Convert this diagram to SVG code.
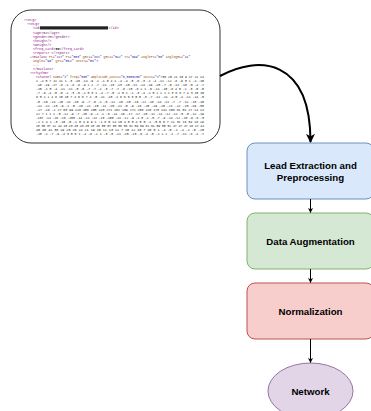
<svg xmlns="http://www.w3.org/2000/svg" width="371" height="411" viewBox="0 0 371 411">
<style>
.lbl{font-family:"Liberation Sans",Arial,sans-serif;font-weight:bold;font-size:9.7px;fill:#000;text-anchor:middle}
.x{font-family:"Liberation Mono","DejaVu Sans Mono",monospace;font-size:3.4px;fill:#222}
.t{fill:#881280}
.a{fill:#994500}
.v{fill:#1a1aa6}
.n{fill:#222}
.tri{fill:#666}
</style>
<defs>
<marker id="big" viewBox="0 0 10 10" refX="9" refY="5" markerWidth="4.5" markerHeight="4.5" markerUnits="strokeWidth" orient="auto">
<path d="M0,0 L10,5 L0,10 L2.5,5 Z" fill="#000"/>
</marker>
<marker id="small" viewBox="0 0 10 10" refX="9" refY="5" markerWidth="5" markerHeight="5" markerUnits="strokeWidth" orient="auto">
<path d="M0,0 L10,5 L0,10 L2.5,5 Z" fill="#000"/>
</marker>
</defs>

<g id="xml-document">
<rect x="11" y="10" width="209" height="133" rx="20" ry="20" fill="#fff" stroke="#333" stroke-width="1"/>
<g class="x">
<text x="24" y="21.2"><tspan class="tri">▾</tspan><tspan class="t">&lt;ecg&gt;</tspan></text>
<text x="27" y="25.2"><tspan class="tri">▾</tspan><tspan class="t">&lt;ecg&gt;</tspan></text>
<text x="33" y="29.2"><tspan class="t">&lt;id&gt;</tspan></text>
<rect x="40" y="26.3" width="68" height="3.2" fill="#222"/>
<text x="108.5" y="29.2"><tspan class="t">&lt;/id&gt;</tspan></text>
<text x="33" y="33.5"><tspan class="t">&lt;age&gt;</tspan><tspan class="n">82</tspan><tspan class="t">&lt;/age&gt;</tspan></text>
<text x="33" y="37.5"><tspan class="t">&lt;gender&gt;</tspan><tspan class="n">M</tspan><tspan class="t">&lt;/gender&gt;</tspan></text>
<text x="33" y="41.5"><tspan class="t">&lt;height/&gt;</tspan></text>
<text x="33" y="45.5"><tspan class="t">&lt;weight/&gt;</tspan></text>
<text x="33" y="49.5"><tspan class="t">&lt;freq_card&gt;</tspan><tspan class="n" font-weight="bold">80</tspan><tspan class="t">&lt;/freq_card&gt;</tspan></text>
<text x="33" y="53.5"><tspan class="t">&lt;report&gt; &lt;/report&gt;</tspan></text>
<text x="30" y="57.9" font-size="3.15"><tspan class="tri">▸</tspan><tspan class="t">&lt;maxlans </tspan><tspan class="a">Pt=</tspan><tspan class="v">"217"</tspan><tspan class="a"> Pt=</tspan><tspan class="v">"083"</tspan><tspan class="a"> QRSi=</tspan><tspan class="v">"xxS"</tspan><tspan class="a"> QRSi=</tspan><tspan class="v">"542"</tspan><tspan class="a"> Tt=</tspan><tspan class="v">"099"</tspan><tspan class="a"> anglePr=</tspan><tspan class="v">"58"</tspan><tspan class="a"> angleQRS=</tspan><tspan class="v">"41"</tspan></text>
<text x="33" y="61.9"><tspan class="a">angle=</tspan><tspan class="v">"99"</tspan><tspan class="a"> QTc=</tspan><tspan class="v">"062"</tspan><tspan class="a"> units=</tspan><tspan class="v">"ms"</tspan><tspan class="t">&gt;</tspan></text>
<text x="33" y="65.9"><tspan class="n">...</tspan></text>
<text x="33" y="69.9"><tspan class="t">&lt;/maxlans&gt;</tspan></text>
<text x="30" y="73.9"><tspan class="tri">▾</tspan><tspan class="t">&lt;rhythm&gt;</tspan></text>
<text x="36" y="78.2" font-size="3.15"><tspan class="t">&lt;channel </tspan><tspan class="a">name=</tspan><tspan class="v">"I"</tspan><tspan class="a"> freq=</tspan><tspan class="v">"500"</tspan><tspan class="a"> amplitude_units=</tspan><tspan class="v">"0,0000150"</tspan><tspan class="a"> units=</tspan><tspan class="v">"V"</tspan><tspan class="t">&gt;</tspan><tspan class="n">36 20 21 15 9 17 21 14</tspan></text>
<text x="36" y="82.2" textLength="168" lengthAdjust="spacingAndGlyphs">1 -4 0 7 11 11 1 -3 -10 -14 -9 -1 -1 0 4 1 -4 -4 -5 -6 -3 -1 -4 -11 -12 -8 -9 5 1 -4 -10</text>
<text x="36" y="86.2" textLength="168" lengthAdjust="spacingAndGlyphs">-16 -19 -27 -8 -1 -8 -8 -9 2 2 -7 -11 -13 -13 -10 -11 -14 -19 -20 -7 -5 -11 -16 -5 -4 -7</text>
<text x="36" y="90.2" textLength="168" lengthAdjust="spacingAndGlyphs">-10 -1 0 -4 -11 -11 -5 -6 -7 -7 -1 -3 -7 -7 -8 -13 -8 2 1 -6 -11 -10 -8 4 5 -1 -3 -5 -5</text>
<text x="36" y="94.2" textLength="168" lengthAdjust="spacingAndGlyphs">-7 -6 -4 -5 -5 -1 -3 -6 -1 0 3 1 -4 -7 -5 -1 0 1 -1 -3 -4 -1 0 2 2 2 1 3 8 8 7 4 3 10 10</text>
<text x="36" y="98.2" textLength="168" lengthAdjust="spacingAndGlyphs">8 5 1 1 4 8 10 10 7 4 6 8 7 4 -5 -11 -10 -1 6 8 6 3 0 0 -3 -7 -11 -11 -4 0 -4 -11 -14 -5</text>
<text x="36" y="102.5" textLength="168" lengthAdjust="spacingAndGlyphs">-5 -16 -24 -20 -11 -10 -9 -7 -6 -1 -6 -12 -16 -15 -16 -22 -18 -14 -11 -7 -7 -12 -13 -10</text>
<text x="36" y="106.5" textLength="168" lengthAdjust="spacingAndGlyphs">-11 -11 -13 -9 -1 -5 -16 -21 -15 -11 -15 -11 -5 -9 -18 -20 -19 -20 -21 -22 -20 -19 -30</text>
<text x="36" y="110.5" textLength="168" lengthAdjust="spacingAndGlyphs">-27 -18 -2 27 63 99 128 158 200 243 271 282 289 272 258 226 173 141 108 81 51 27 14 14</text>
<text x="36" y="114.5" textLength="168" lengthAdjust="spacingAndGlyphs">12 7 1 1 1 -5 -12 -9 -7 -10 -9 -2 -1 -6 -14 -16 -17 -17 -15 -11 -11 -12 -11 -5 -5 -12 -19</text>
<text x="36" y="118.5" textLength="168" lengthAdjust="spacingAndGlyphs">-107 -14 -16 -16 -100 -14 -11 -14 -10 -100 -14 -12 -9 -1 0 -1 -5 -7 -9 -14 -12 -10 -9 -8 -5</text>
<text x="36" y="122.5" textLength="168" lengthAdjust="spacingAndGlyphs">-2 1 4 1 -3 -10 -5 -1 0 4 9 9 1 -1 8 5 14 10 4 5 5 4 5 5 -1 -5 5 6 7 11 32 18 34 18 29</text>
<text x="36" y="126.9" textLength="168" lengthAdjust="spacingAndGlyphs">20 30 37 42 44 43 43 45 43 45 43 46 55 57 60 58 58 61 59 59 61 61 59 55 52 47 47 47 48 47 44</text>
<text x="36" y="130.9" textLength="168" lengthAdjust="spacingAndGlyphs">40 40 41 38 29 25 26 24 21 19 15 11 13 11 7 10 12 10 7 10 6 1 -4 -5 -1 -4 -1 -5 -10</text>
<text x="36" y="134.9" textLength="168" lengthAdjust="spacingAndGlyphs">-10 -1 -7 -9 -4 3 5 6 1 -4 -8 -2 1 -3 -6 -11 -15 -13 -6 -4 -5 -1 2 2 -1 -7 -11 -8 -4 -7</text>
</g>
</g>

<g id="lead-extraction">
<rect x="247" y="143" width="127" height="56" rx="8" ry="8" fill="#dae8fc" stroke="#6c8ebf" stroke-width="1"/>
<text class="lbl" x="310.5" y="169.2">Lead Extraction and</text>
<text class="lbl" x="310.5" y="180.6">Preprocessing</text>
</g>

<g id="data-augmentation">
<rect x="247" y="213" width="127" height="56" rx="8" ry="8" fill="#d5e8d4" stroke="#82b366" stroke-width="1"/>
<text class="lbl" x="310.5" y="244.5">Data Augmentation</text>
</g>

<g id="normalization">
<rect x="247" y="283" width="127" height="56" rx="8" ry="8" fill="#f8cecc" stroke="#b85450" stroke-width="1"/>
<text class="lbl" x="310.5" y="314.5">Normalization</text>
</g>

<g id="network">
<ellipse cx="310.5" cy="391" rx="42.5" ry="28" fill="#e1d5e7" stroke="#9673a6" stroke-width="1"/>
<text class="lbl" x="310.5" y="395">Network</text>
</g>

<g id="connectors" fill="none" stroke="#000">
<path d="M220,76 C258,55 310.5,58 310.5,142" stroke-width="2" marker-end="url(#big)"/>
<path d="M310.5,199 L310.5,212.5" stroke-width="1" marker-end="url(#small)"/>
<path d="M310.5,269 L310.5,282.5" stroke-width="1" marker-end="url(#small)"/>
<path d="M310.5,339 L310.5,362.5" stroke-width="1" marker-end="url(#small)"/>
</g>
</svg>
